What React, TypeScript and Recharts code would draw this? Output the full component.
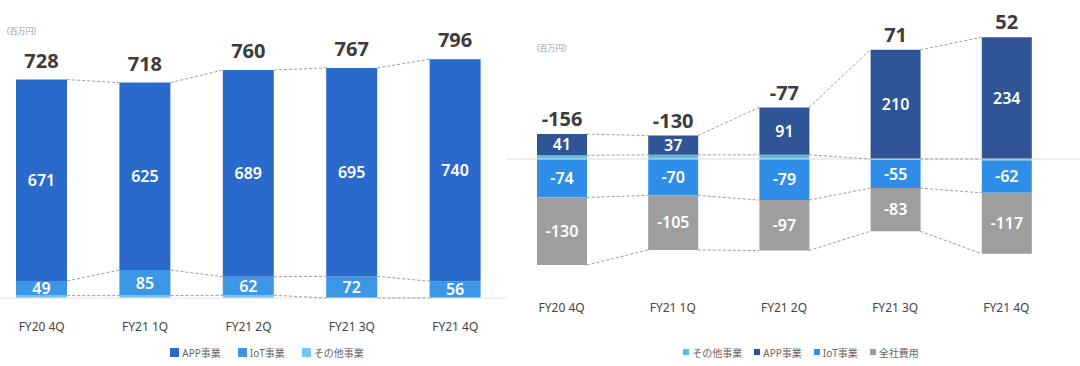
import React from 'react';
import {
  ComposedChart,
  Bar,
  Line,
  XAxis,
  YAxis,
  LabelList,
  Legend,
  ReferenceLine,
} from 'recharts';

const quarters = ['FY20 4Q', 'FY21 1Q', 'FY21 2Q', 'FY21 3Q', 'FY21 4Q'];

// 売上高 (百万円)
const salesApp = [671, 625, 689, 695, 740];
const salesIot = [49, 85, 62, 72, 56];
const salesOther = [8, 8, 9, 0, 0];
const salesTotal = [728, 718, 760, 767, 796];

// 営業利益 (百万円)
const profitOther = [7, 8, 8, -1, -3];
const profitApp = [41, 37, 91, 210, 234];
const profitIot = [-74, -70, -79, -55, -62];
const profitCorp = [-130, -105, -97, -83, -117];
const profitTotal = [-156, -130, -77, 71, 52];

const salesData = quarters.map((q, i) => ({
  name: q,
  other: salesOther[i],
  iot: salesIot[i],
  app: salesApp[i],
  total: salesTotal[i],
  lvOther: salesOther[i],
  lvIot: salesOther[i] + salesIot[i],
  lvTop: salesOther[i] + salesIot[i] + salesApp[i],
}));

const profitData = quarters.map((q, i) => {
  const pos = Math.max(profitOther[i], 0);
  const neg = Math.min(profitOther[i], 0);
  return {
    name: q,
    other: profitOther[i],
    app: profitApp[i],
    iot: profitIot[i],
    corp: profitCorp[i],
    total: profitTotal[i],
    lvTop: pos + profitApp[i],
    lvBase: pos,
    lvIot: neg + profitIot[i],
    lvBottom: neg + profitIot[i] + profitCorp[i],
  };
});

const FONT = "'Noto Sans', 'Noto Sans CJK JP', sans-serif";

// dashed line from the right edge of one bar to the left edge of the next
const makeConnector = (barSize: number) => (props: any) => {
  const { cx, cy, index, points } = props;
  const next = points && points[index + 1];
  if (!next) return <g key={`c-${index}`} />;
  return (
    <line
      key={`c-${index}`}
      x1={cx + barSize / 2}
      y1={cy}
      x2={next.x - barSize / 2}
      y2={next.y}
      stroke="#9d9d9d"
      strokeWidth={1}
      strokeDasharray="3 2"
    />
  );
};

const LegendBox = ({ items, size, gap, pad }: any) => (
  <div
    style={{
      display: 'flex',
      justifyContent: 'center',
      alignItems: 'center',
      height: 20,
      gap,
      paddingLeft: pad,
      fontSize: 10,
      color: '#666',
      fontFamily: FONT,
    }}
  >
    {items.map((it: any) => (
      <span key={it.label} style={{ display: 'flex', alignItems: 'center' }}>
        <span style={{ display: 'inline-block', width: size, height: size, background: it.color, marginRight: 3 }} />
        {it.label}
      </span>
    ))}
  </div>
);

const salesLegend = [
  { label: 'APP事業', color: '#2a6acb' },
  { label: 'IoT事業', color: '#3b96e6' },
  { label: 'その他事業', color: '#74c7ee' },
];

const profitLegend = [
  { label: 'その他事業', color: '#5bbde0' },
  { label: 'APP事業', color: '#2f5597' },
  { label: 'IoT事業', color: '#2f8fe8' },
  { label: '全社費用', color: '#9e9e9e' },
];

const inner = { fill: '#fff', fontSize: 16, fontWeight: 600 };

const SalesChart = () => {
  const conn = makeConnector(51);
  return (
    <ComposedChart
      width={530}
      height={366}
      data={salesData}
      margin={{ top: 28, right: 13, left: 0, bottom: 4 }}
    >
      <XAxis
        dataKey="name"
        axisLine={false}
        tickLine={false}
        tickSize={0}
        tickMargin={24}
        height={44}
        interval={0}
        tick={{ fill: '#444', fontSize: 12 }}
      />
      <YAxis hide domain={[0, 900]} />
      <ReferenceLine y={0} stroke="#e2e2e2" />
      <Bar dataKey="other" stackId="s" fill="#74c7ee" barSize={51} isAnimationActive={false} />
      <Bar dataKey="iot" stackId="s" fill="#3b96e6" barSize={51} isAnimationActive={false}>
        <LabelList dataKey="iot" position="center" {...inner} />
      </Bar>
      <Bar dataKey="app" stackId="s" fill="#2a6acb" barSize={51} isAnimationActive={false}>
        <LabelList dataKey="app" position="center" {...inner} />
        <LabelList dataKey="total" position="top" offset={12} fill="#3c3c3c" fontSize={20} fontWeight={700} />
      </Bar>
      <Line dataKey="lvTop" stroke="none" dot={conn} activeDot={false} isAnimationActive={false} />
      <Line dataKey="lvIot" stroke="none" dot={conn} activeDot={false} isAnimationActive={false} />
      <Line dataKey="lvOther" stroke="none" dot={conn} activeDot={false} isAnimationActive={false} />
      <Legend
        verticalAlign="bottom"
        content={() => <LegendBox items={salesLegend} size={9} gap={17} pad={37} />}
      />
    </ComposedChart>
  );
};

const ProfitChart = () => {
  const conn = makeConnector(50);
  return (
    <ComposedChart
      width={574}
      height={366}
      data={profitData}
      stackOffset="sign"
      margin={{ top: 29, right: 0, left: 0, bottom: 4 }}
    >
      <XAxis
        dataKey="name"
        axisLine={false}
        tickLine={false}
        tickSize={0}
        tickMargin={14}
        height={53}
        interval={0}
        padding={{ right: 18 }}
        tick={{ fill: '#444', fontSize: 12 }}
      />
      <YAxis hide domain={[-250, 250]} />
      <ReferenceLine y={0} stroke="#dcdcdc" />
      <Bar dataKey="other" stackId="s" fill="#5bbde0" barSize={50} isAnimationActive={false} />
      <Bar dataKey="app" stackId="s" fill="#2f5597" barSize={50} isAnimationActive={false}>
        <LabelList dataKey="app" position="center" {...inner} />
        <LabelList dataKey="total" position="top" offset={8} fill="#3c3c3c" fontSize={20} fontWeight={700} />
      </Bar>
      <Bar dataKey="iot" stackId="s" fill="#2f8fe8" barSize={50} isAnimationActive={false}>
        <LabelList dataKey="iot" position="center" {...inner} />
      </Bar>
      <Bar dataKey="corp" stackId="s" fill="#9e9e9e" barSize={50} isAnimationActive={false}>
        <LabelList dataKey="corp" position="center" {...inner} />
      </Bar>
      <Line dataKey="lvTop" stroke="none" dot={conn} activeDot={false} isAnimationActive={false} />
      <Line dataKey="lvBase" stroke="none" dot={conn} activeDot={false} isAnimationActive={false} />
      <Line dataKey="lvIot" stroke="none" dot={conn} activeDot={false} isAnimationActive={false} />
      <Line dataKey="lvBottom" stroke="none" dot={conn} activeDot={false} isAnimationActive={false} />
      <Legend
        verticalAlign="bottom"
        content={() => <LegendBox items={profitLegend} size={6} gap={12} pad={16} />}
      />
    </ComposedChart>
  );
};

export default function App() {
  return (
    <div
      style={{
        position: 'fixed',
        left: 0,
        top: 0,
        width: 1080,
        height: 366,
        overflow: 'hidden',
        background: '#fff',
        fontFamily: FONT,
      }}
    >
      <div style={{ position: 'absolute', left: -10, top: 0 }}>
        <SalesChart />
      </div>
      <div style={{ position: 'absolute', left: 506, top: 0 }}>
        <ProfitChart />
      </div>
      <div style={{ position: 'absolute', left: 7, top: 25, fontSize: 8, color: '#999' }}>(百万円)</div>
      <div style={{ position: 'absolute', left: 537, top: 42, fontSize: 8, color: '#999' }}>(百万円)</div>
    </div>
  );
}
